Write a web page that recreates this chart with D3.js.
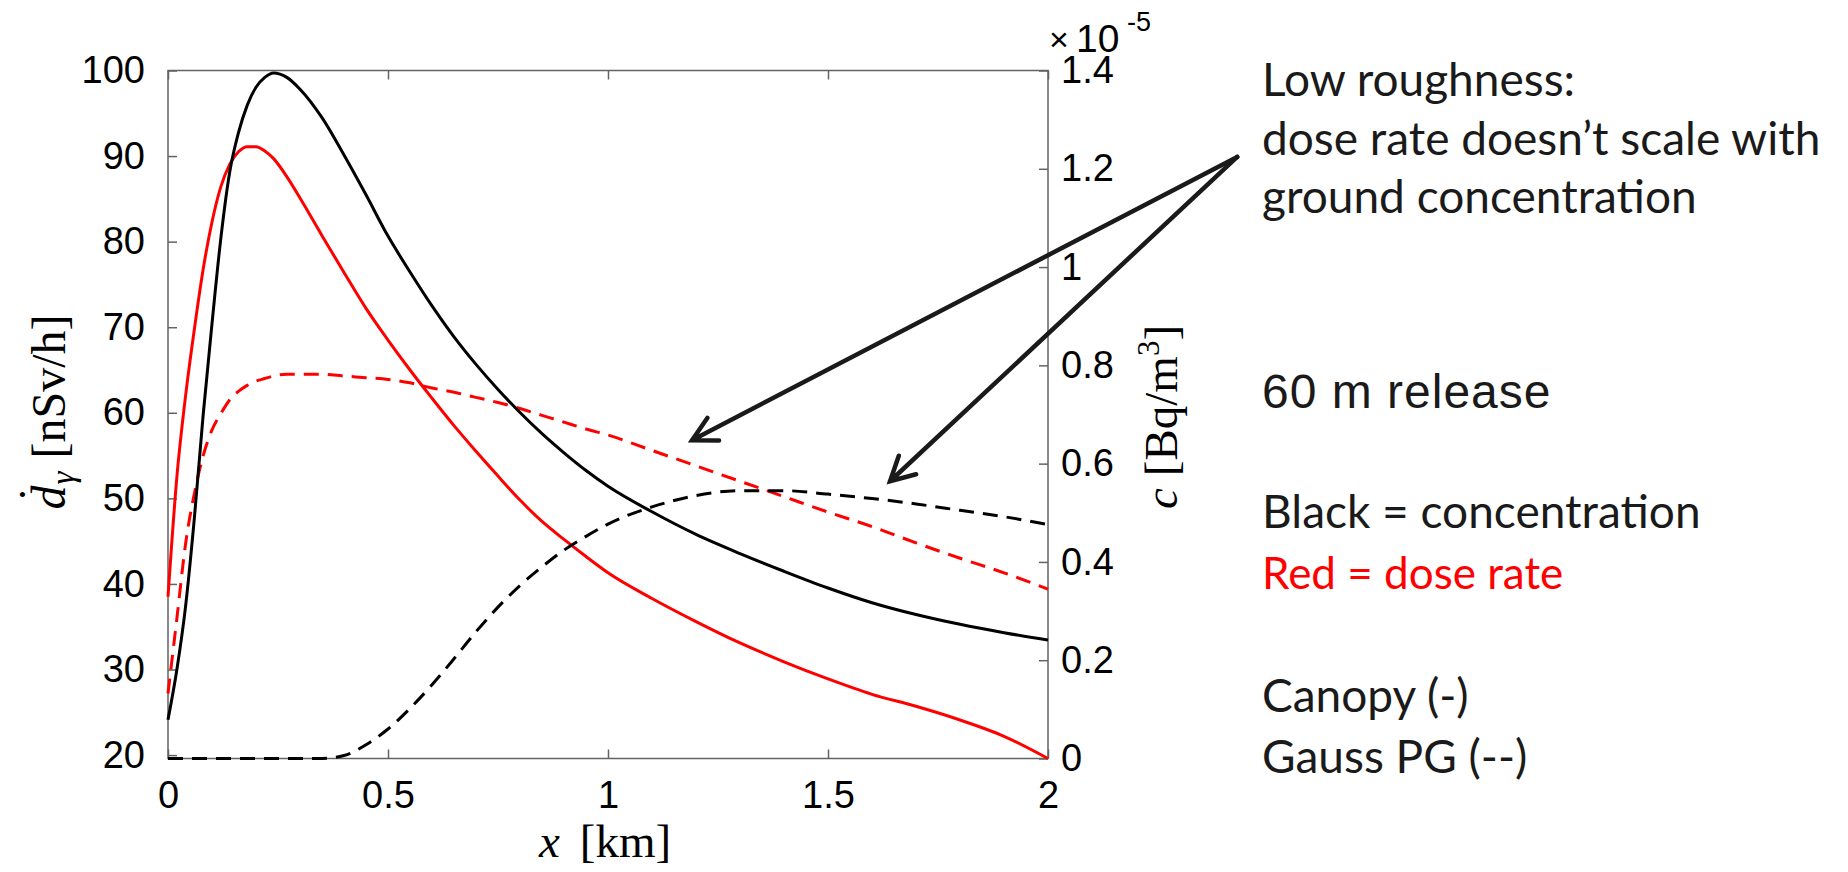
<!DOCTYPE html>
<html>
<head>
<meta charset="utf-8">
<script src="https://cdn.jsdelivr.net/npm/d3@7"></script>
<style>
  html, body { margin: 0; padding: 0; background: #fff; }
  svg { display: block; }
</style>
</head>
<body>
<svg id="chart" width="1848" height="872"></svg>
<script>
// Downwind distance [km]
const xKm = [0, 0.02, 0.04, 0.06, 0.08, 0.10, 0.12, 0.14, 0.16, 0.18, 0.20, 0.22, 0.24, 0.27, 0.30,
             0.35, 0.40, 0.45, 0.50, 0.55, 0.60, 0.65, 0.70, 0.75, 0.80, 0.85, 0.90, 0.95, 1.00,
             1.10, 1.20, 1.30, 1.40, 1.50, 1.60, 1.70, 1.80, 1.90, 2.00];

// Canopy model: ground concentration [x1e-5 Bq/m^3] (right axis)
const canopyConc = [0.079, 0.180, 0.310, 0.490, 0.700, 0.885, 1.058, 1.192, 1.273, 1.329, 1.366, 1.386, 1.395, 1.386, 1.362,
                    1.304, 1.228, 1.147, 1.063, 0.990, 0.921, 0.858, 0.802, 0.751, 0.704, 0.661, 0.622, 0.586, 0.554,
                    0.502, 0.456, 0.417, 0.381, 0.347, 0.317, 0.293, 0.273, 0.256, 0.241];

// Canopy model: gamma dose rate [nSv/h] (left axis)
const canopyDose = [38.5, 52.4, 62.0, 69.8, 76.8, 82.3, 86.4, 89.0, 90.5, 91.1, 91.1, 90.6, 89.7, 87.6, 85.1,
                    80.7, 76.4, 72.2, 68.5, 65.0, 61.7, 58.5, 55.5, 52.6, 49.8, 47.3, 45.2, 43.2, 41.3,
                    38.3, 35.6, 33.1, 30.9, 28.9, 27.1, 25.7, 24.1, 22.2, 19.6];

// Gaussian plume (Pasquill-Gifford): gamma dose rate [nSv/h] (left axis)
const gaussDose = [27.2, 35.9, 44.7, 50.6, 55.0, 58.0, 59.9, 61.5, 62.5, 63.2, 63.7, 64.0, 64.3, 64.5, 64.5,
                   64.5, 64.3, 64.1, 63.9, 63.5, 62.9, 62.4, 61.8, 61.2, 60.5, 59.7, 58.9, 58.1, 57.4,
                   55.6, 53.8, 52.0, 50.2, 48.4, 46.7, 44.8, 43.0, 41.3, 39.4];

// Gaussian plume (Pasquill-Gifford): ground concentration [x1e-5 Bq/m^3] (right axis)
const gaussConc = [0, 0, 0, 0, 0, 0, 0, 0, 0, 0, 0, 0, 0, 0, 0,
                   0.0, 0.006, 0.028, 0.060, 0.102, 0.150, 0.203, 0.258, 0.308, 0.352, 0.390, 0.424, 0.452, 0.477,
                   0.512, 0.535, 0.545, 0.545, 0.538, 0.529, 0.518, 0.505, 0.492, 0.476];

const xTicks = [0, 0.5, 1, 1.5, 2];
const doseTicks = [20, 30, 40, 50, 60, 70, 80, 90, 100];
const concTicks = [0, 0.2, 0.4, 0.6, 0.8, 1.0, 1.2, 1.4];

const svg = d3.select("#chart");

const plot = { left: 168, right: 1048, top: 70.5, bottom: 758.5 };

const x = d3.scaleLinear().domain([0, 2]).range([plot.left, plot.right]);
const yDose = d3.scaleLinear().domain([19.6, 100]).range([plot.bottom, plot.top]);
const yConc = d3.scaleLinear().domain([0, 1.4]).range([plot.bottom, plot.top]);

const axisColor = "#636363";
const tickFont = "'Liberation Sans', Arial, sans-serif";
const tickSize = 38;

function styleAxis(g) {
  g.select(".domain").remove();
  g.selectAll(".tick line").attr("stroke", axisColor).attr("stroke-width", 1.5);
  g.selectAll(".tick text")
    .attr("fill", "#000")
    .attr("font-family", tickFont)
    .attr("font-size", tickSize);
  g.attr("font-family", null).attr("font-size", null);
}

// bottom axis with labels
svg.append("g")
  .attr("transform", `translate(0,${plot.bottom})`)
  .call(d3.axisBottom(x).tickValues(xTicks).tickSizeInner(-9).tickSizeOuter(0).tickPadding(23)
        .tickFormat(d => String(d)))
  .call(styleAxis);

// top axis: ticks only
svg.append("g")
  .attr("transform", `translate(0,${plot.top})`)
  .call(d3.axisTop(x).tickValues(xTicks).tickSizeInner(-9).tickSizeOuter(0).tickFormat(""))
  .call(styleAxis);

// left axis: dose rate
svg.append("g")
  .attr("transform", `translate(${plot.left},0)`)
  .call(d3.axisLeft(yDose).tickValues(doseTicks).tickSizeInner(-9).tickSizeOuter(0).tickPadding(23)
        .tickFormat(d => String(d)))
  .call(styleAxis);

// right axis: concentration
svg.append("g")
  .attr("transform", `translate(${plot.right},0)`)
  .call(d3.axisRight(yConc).tickValues(concTicks).tickSizeInner(-9).tickSizeOuter(0).tickPadding(13)
        .tickFormat(d => String(+d.toFixed(1))))
  .call(styleAxis);

// axes box
svg.append("rect")
  .attr("x", plot.left).attr("y", plot.top)
  .attr("width", plot.right - plot.left).attr("height", plot.bottom - plot.top)
  .attr("fill", "none").attr("stroke", axisColor).attr("stroke-width", 1.5);

// exponent label of the right axis (x10^-5)
const expoG = svg.append("g")
  .attr("font-family", tickFont).attr("fill", "#000");
expoG.append("text").attr("x", 1049).attr("y", 51).attr("font-size", 34).text("\u00d7");
expoG.append("text").attr("x", 1076).attr("y", 52).attr("font-size", 39).text("10");
expoG.append("text").attr("x", 1127).attr("y", 31).attr("font-size", 27).text("-5");

// curves
const series = [
  { values: canopyDose, y: yDose, color: "#ff0000", dash: null },
  { values: gaussDose,  y: yDose, color: "#ff0000", dash: "15,9" },
  { values: gaussConc,  y: yConc, color: "#000000", dash: "15,9" },
  { values: canopyConc, y: yConc, color: "#000000", dash: null }
];

series.forEach(s => {
  const line = d3.line()
    .x((d, i) => x(xKm[i]))
    .y(d => s.y(d))
    .curve(d3.curveMonotoneX);
  svg.append("path")
    .datum(s.values)
    .attr("d", line)
    .attr("fill", "none")
    .attr("stroke", s.color)
    .attr("stroke-width", 3)
    .attr("stroke-dasharray", s.dash)
    .attr("stroke-linejoin", "round");
});

// axis titles
const serif = "'Liberation Serif', 'DejaVu Serif', 'Times New Roman', serif";

// left: d-dot gamma [nSv/h]; the dot is set as a spacing accent over the d
const yl = svg.append("text")
  .attr("transform", "translate(65,412) rotate(-90)")
  .attr("text-anchor", "middle")
  .attr("font-family", serif).attr("font-size", 48).attr("fill", "#000");
yl.append("tspan").attr("font-style", "italic").text("d");
yl.append("tspan").attr("dx", -17).attr("dy", -13).text("\u02d9");
yl.append("tspan").attr("font-style", "italic").attr("font-size", 33).attr("dx", 2).attr("dy", 22).text("\u03b3");
yl.append("tspan").attr("dy", -9).attr("dx", 13).text("[nSv/h]");

const yr = svg.append("text")
  .attr("transform", "translate(1177,417) rotate(-90)")
  .attr("text-anchor", "middle")
  .attr("font-family", serif).attr("font-size", 47).attr("fill", "#000");
yr.append("tspan").attr("font-style", "italic").text("c");
yr.append("tspan").attr("dx", 12).text("[Bq/m");
yr.append("tspan").attr("font-size", 31).attr("dy", -18).text("3");
yr.append("tspan").attr("dy", 18).text("]");

const xl = svg.append("text")
  .attr("x", 605).attr("y", 857)
  .attr("text-anchor", "middle")
  .attr("font-family", serif).attr("font-size", 47).attr("fill", "#000");
xl.append("tspan").attr("font-style", "italic").text("x");
xl.append("tspan").attr("dx", 20).text("[km]");

// annotation arrows (positions in data coordinates of the dose axis)
const arrowFrom = [2.43, 89.9];
const arrowTips = [[1.191, 56.8], [1.641, 52.0]];
const headLen = 27, headAng = 28 * Math.PI / 180;

arrowTips.forEach(tip => {
  const x0 = x(arrowFrom[0]), y0 = yDose(arrowFrom[1]);
  const x1 = x(tip[0]), y1 = yDose(tip[1]);
  const a = Math.atan2(y0 - y1, x0 - x1);
  const w1 = [x1 + headLen * Math.cos(a + headAng), y1 + headLen * Math.sin(a + headAng)];
  const w2 = [x1 + headLen * Math.cos(a - headAng), y1 + headLen * Math.sin(a - headAng)];
  svg.append("path")
    .attr("d", `M${x0},${y0}L${x1},${y1}M${w1[0]},${w1[1]}L${x1},${y1}L${w2[0]},${w2[1]}`)
    .attr("fill", "none").attr("stroke", "#1a1a1a").attr("stroke-width", 4.5)
    .attr("stroke-linecap", "round").attr("stroke-linejoin", "miter");
});

// side notes
const noteFont = "Lato, 'Open Sans', sans-serif";
const notes = [
  { text: "Low roughness:", y: 96, color: "#1a1a1a", font: noteFont, size: 46 },
  { text: "dose rate doesn\u2019t scale with", y: 155, color: "#1a1a1a", font: noteFont, size: 46 },
  { text: "ground concentration", y: 213, color: "#1a1a1a", font: noteFont, size: 46 },
  { text: "60 m release", y: 408, color: "#1a1a1a", font: tickFont, size: 48, spacing: 1 },
  { text: "Black = concentration", y: 528, color: "#1a1a1a", font: noteFont, size: 46 },
  { text: "Red = dose rate", y: 589, color: "#ff0000", font: noteFont, size: 44 },
  { text: "Canopy (-)", y: 712, color: "#1a1a1a", font: noteFont, size: 46 },
  { text: "Gauss PG (--)", y: 773, color: "#1a1a1a", font: noteFont, size: 46 }
];
svg.selectAll("text.note")
  .data(notes)
  .join("text")
  .attr("class", "note")
  .attr("x", 1262)
  .attr("y", d => d.y)
  .attr("font-family", d => d.font)
  .attr("font-size", d => d.size)
  .attr("letter-spacing", d => d.spacing || 0)
  .attr("fill", d => d.color)
  .text(d => d.text);
</script>
</body>
</html>
